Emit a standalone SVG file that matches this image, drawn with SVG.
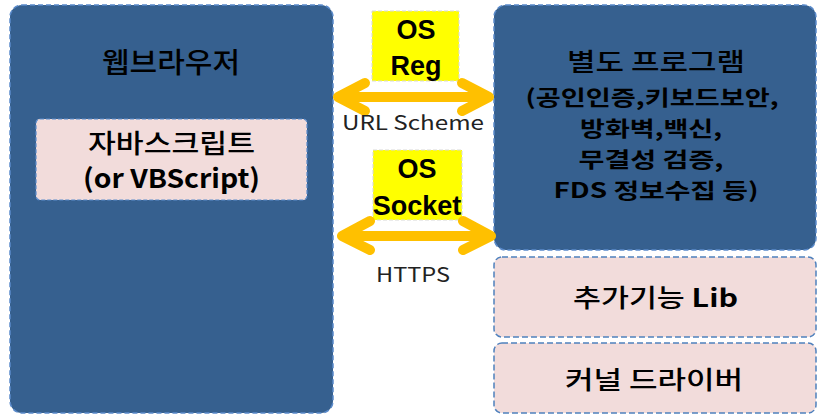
<svg xmlns="http://www.w3.org/2000/svg" width="821" height="416" viewBox="0 0 821 416">
<style>
.blue{fill:#36608f;stroke:#5b8bcb;stroke-width:1.5;stroke-dasharray:5 3}
.pink{fill:#f2dcdb;stroke:#4f81bd;stroke-width:1.5;stroke-dasharray:6 3}
.pink2{fill:#f2dcdb;stroke:#5b8bcb;stroke-width:1.2;stroke-dasharray:4 2}
.yel{fill:#ffff00;stroke:#d8d8d8;stroke-width:1;stroke-dasharray:4 2}
.t{font-family:"Noto Sans CJK KR","Malgun Gothic",sans-serif;fill:#000;text-anchor:middle;font-weight:500}
.b{font-weight:bold}
.os{font-family:"Liberation Sans",Arial,sans-serif;font-weight:bold;fill:#000;text-anchor:middle;font-size:27px}
.lbl{font-family:"Noto Sans CJK KR",sans-serif;fill:#222;font-size:20px;text-anchor:middle}
.arr{fill:none;stroke:#ffc000;stroke-width:10;stroke-linecap:round;stroke-linejoin:round}
</style>
<g id="browser">
<rect class="blue" x="10" y="5" width="323" height="408" rx="12"/>
<text class="t" x="171" y="73" font-size="28" textLength="138" lengthAdjust="spacingAndGlyphs">웹브라우저</text>
</g>
<g id="javascript">
<rect class="pink2" x="36" y="119" width="271" height="81" rx="4"/>
<text class="t" font-size="26"><tspan x="171.5" y="153" textLength="167" lengthAdjust="spacingAndGlyphs">자바스크립트</tspan><tspan class="b" x="171.5" y="188" textLength="177" lengthAdjust="spacingAndGlyphs">(or VBScript)</tspan></text>
</g>
<g id="program">
<rect class="blue" x="494" y="5" width="322" height="245" rx="12"/>
<text class="t" font-size="21"><tspan x="656" y="71" font-size="25" textLength="178" lengthAdjust="spacingAndGlyphs">별도 프로그램</tspan><tspan class="b" x="652" y="105" textLength="253" lengthAdjust="spacingAndGlyphs">(공인인증,키보드보안,</tspan><tspan class="b" x="651" y="136" textLength="142" lengthAdjust="spacingAndGlyphs">방화벽,백신,</tspan><tspan class="b" x="651" y="167" textLength="145" lengthAdjust="spacingAndGlyphs">무결성 검증,</tspan><tspan class="b" x="656" y="198" textLength="205" lengthAdjust="spacingAndGlyphs">FDS 정보수집 등)</tspan></text>
</g>
<g id="lib">
<rect class="pink" x="494" y="257" width="322" height="80" rx="8"/>
<text class="t" x="655.5" y="307" font-size="25" textLength="165" lengthAdjust="spacingAndGlyphs">추가기능 <tspan class="b">Lib</tspan></text>
</g>
<g id="driver">
<rect class="pink" x="494" y="343" width="322" height="70" rx="8"/>
<text class="t" x="654" y="389" font-size="25" textLength="178" lengthAdjust="spacingAndGlyphs">커널 드라이버</text>
</g>
<g id="osreg">
<rect class="yel" x="372" y="11" width="87" height="70"/>
<text class="os"><tspan x="416" y="39">OS</tspan><tspan x="416" y="75">Reg</tspan></text>
</g>
<g id="ossocket">
<rect class="yel" x="373" y="150" width="89" height="70"/>
<text class="os"><tspan x="417" y="178">OS</tspan><tspan x="417" y="215">Socket</tspan></text>
</g>
<g id="connectors">
<path class="arr" d="M338 97 H489 M365 83 L338 97 L365 111 M462 83 L489 97 L462 111"/>
<text class="lbl" x="413" y="130" textLength="142" lengthAdjust="spacingAndGlyphs">URL Scheme</text>
<path class="arr" d="M342 236 H491 M370 221 L342 236 L370 250 M463 221 L491 236 L463 250"/>
<text class="lbl" x="413" y="282" textLength="74" lengthAdjust="spacingAndGlyphs">HTTPS</text>
</g>
</svg>
